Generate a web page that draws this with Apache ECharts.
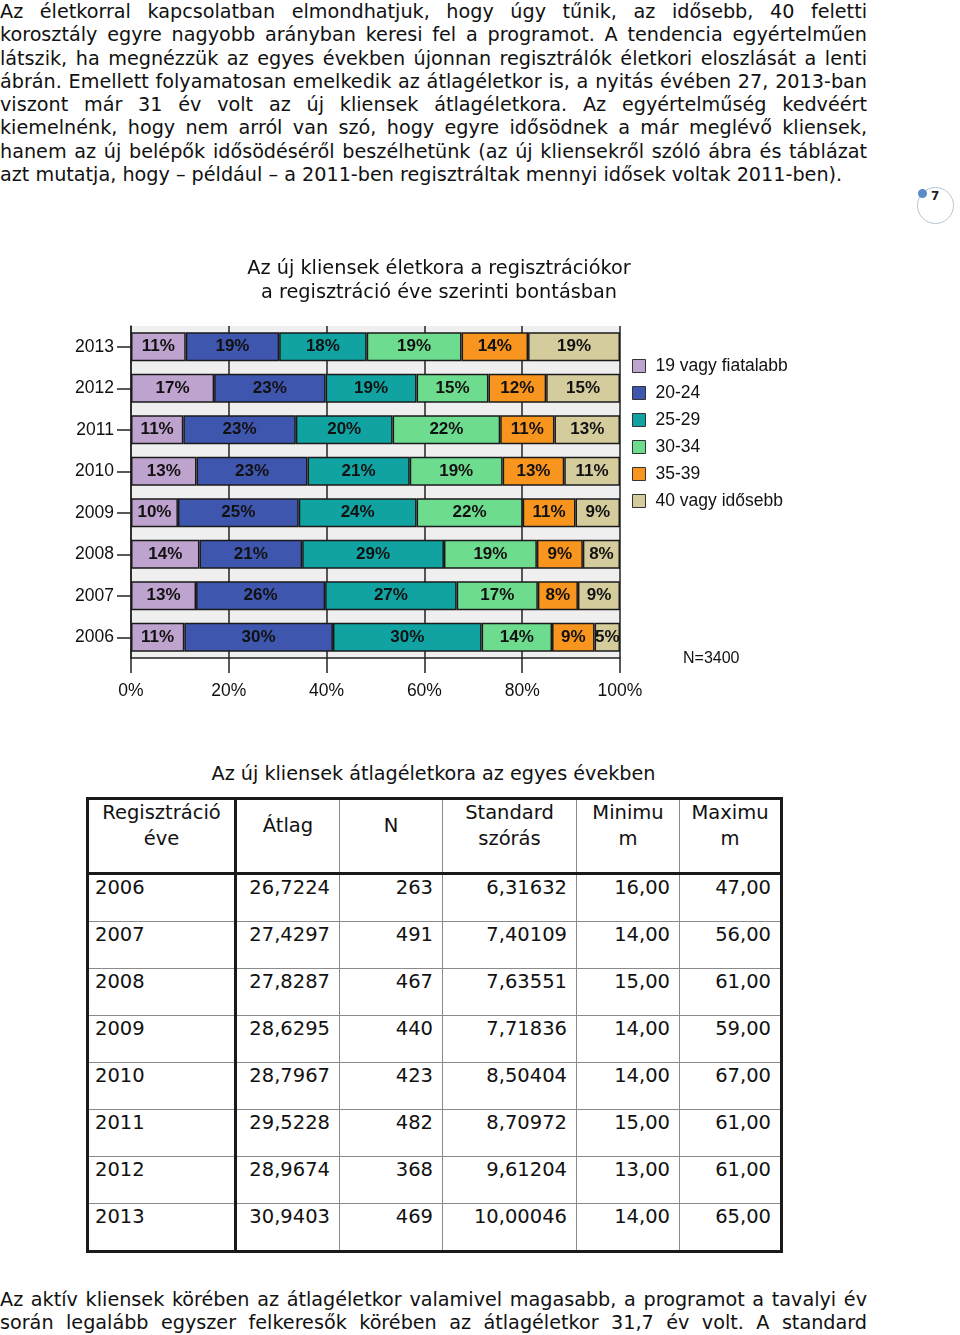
<!DOCTYPE html>
<html>
<head>
<meta charset="utf-8">
<script src="https://cdn.jsdelivr.net/npm/echarts@6/dist/echarts.min.js"></script>
<style>
  html, body { margin:0; padding:0; background:#fff; }
  body { width:960px; height:1335px; position:relative; overflow:hidden; font-family:"DejaVu Sans", Verdana, sans-serif; color:#111; }
  .para { position:absolute; left:0; width:867px; font-size:19.2px; line-height:23.3px; }
  .para .ln { display:block; white-space:nowrap; text-align:justify; text-align-last:justify; }
  .para .ln.last { text-align-last:left; }
  #chart { position:absolute; left:0; top:240px; width:960px; height:480px; }
  #ttitle { position:absolute; left:0; width:867px; top:762px; text-align:center; font-size:19.2px; line-height:24px; }
  table { position:absolute; left:86px; top:797px; border-collapse:collapse; table-layout:fixed; font-size:19.5px; border:3px solid #1a1a1a; }
  td, th { border:1px solid #8a8a8a; padding:0 9px; vertical-align:top; line-height:26px; font-weight:normal; }
  th { text-align:center; height:72px; padding-top:0; }
  th.one { padding-top:13px; height:59px; }
  thead tr { border-bottom:3px solid #1a1a1a; }
  td { text-align:right; height:46px; padding-top:0; }
  td.y, th.y { border-right:3px solid #1a1a1a; }
  td.y { text-align:left; padding-left:6px; }
  #pg { position:absolute; left:917px; top:187px; width:35px; height:35px; border:1.5px solid #b7c6d6; border-radius:50%; }
  #pgdot { position:absolute; left:918px; top:189px; width:9px; height:9px; background:#5b8cc9; border-radius:50%; }
  #pgn { position:absolute; left:931px; top:189px; font-size:12px; font-weight:bold; color:#222; }
</style>
</head>
<body>
<div class="para" style="top:0px">
  <span class="ln">Az életkorral kapcsolatban elmondhatjuk, hogy úgy tűnik, az idősebb, 40 feletti</span>
  <span class="ln">korosztály egyre nagyobb arányban keresi fel a programot. A tendencia egyértelműen</span>
  <span class="ln">látszik, ha megnézzük az egyes években újonnan regisztrálók életkori eloszlását a lenti</span>
  <span class="ln">ábrán. Emellett folyamatosan emelkedik az átlagéletkor is, a nyitás évében 27, 2013-ban</span>
  <span class="ln">viszont már 31 év volt az új kliensek átlagéletkora. Az egyértelműség kedvéért</span>
  <span class="ln">kiemelnénk, hogy nem arról van szó, hogy egyre idősödnek a már meglévő kliensek,</span>
  <span class="ln">hanem az új belépők idősödéséről beszélhetünk (az új kliensekről szóló ábra és táblázat</span>
  <span class="ln last">azt mutatja, hogy – például – a 2011-ben regisztráltak mennyi idősek voltak 2011-ben).</span>
</div>
<div id="pg"></div><div id="pgdot"></div><div id="pgn">7</div>

<div id="chart"></div>

<div id="ttitle">Az új kliensek átlagéletkora az egyes években</div>
<table id="tbl">
  <colgroup>
    <col style="width:148px"><col style="width:104px"><col style="width:103px"><col style="width:134px"><col style="width:103px"><col style="width:102px">
  </colgroup>
  <thead>
    <tr>
      <th class="y">Regisztráció<br>éve</th>
      <th class="one">Átlag</th>
      <th class="one">N</th>
      <th>Standard<br>szórás</th>
      <th>Minimu<br>m</th>
      <th>Maximu<br>m</th>
    </tr>
  </thead>
  <tbody id="tb"></tbody>
</table>

<div class="para" style="top:1287.5px">
  <span class="ln">Az aktív kliensek körében az átlagéletkor valamivel magasabb, a programot a tavalyi év</span>
  <span class="ln">során legalább egyszer felkeresők körében az átlagéletkor 31,7 év volt. A standard</span>
</div>

<script>
// ---- chart data (percent shares) ----
const years = ['2006', '2007', '2008', '2009', '2010', '2011', '2012', '2013'];
const ageGroups = ['19 vagy fiatalabb', '20-24', '25-29', '30-34', '35-39', '40 vagy idősebb'];
const share19 = [10.9, 13.3, 14.0, 9.6, 13.4, 10.7, 17.0, 11.2];
const share2024 = [30.4, 26.4, 21.0, 24.7, 22.7, 23.0, 22.8, 19.1];
const share2529 = [30.4, 26.9, 29.0, 24.1, 20.9, 19.8, 18.6, 17.9];
const share3034 = [14.4, 16.6, 19.0, 21.7, 19.0, 22.0, 14.7, 19.4];
const share3539 = [8.7, 8.2, 9.4, 10.8, 12.6, 11.1, 11.8, 13.6];
const share40 = [5.2, 8.6, 7.6, 9.1, 11.4, 13.4, 15.1, 18.8];
const xTicks = [0, 20, 40, 60, 80, 100];
const sampleNote = 'N=3400';

// ---- table data ----
const tYears = [2006, 2007, 2008, 2009, 2010, 2011, 2012, 2013];
const tMean = [26.7224, 27.4297, 27.8287, 28.6295, 28.7967, 29.5228, 28.9674, 30.9403];
const tN = [263, 491, 467, 440, 423, 482, 368, 469];
const tSD = [6.31632, 7.40109, 7.63551, 7.71836, 8.50404, 8.70972, 9.61204, 10.00046];
const tMin = [16, 14, 15, 14, 14, 15, 13, 14];
const tMax = [47, 56, 61, 59, 67, 61, 61, 65];

const colors = ['#bea3cf', '#3f56ae', '#11a2a2', '#6edc8e', '#f7951f', '#d5cc9d'];
const seriesData = [share19, share2024, share2529, share3034, share3539, share40];

const fmt = (v, d) => v.toFixed(d).replace('.', ',');
const tb = document.getElementById('tb');
tYears.forEach((y, i) => {
  const tr = document.createElement('tr');
  tr.innerHTML = '<td class="y">' + y + '</td><td>' + fmt(tMean[i], 4) + '</td><td>' + tN[i] +
    '</td><td>' + fmt(tSD[i], 5) + '</td><td>' + fmt(tMin[i], 2) + '</td><td>' + fmt(tMax[i], 2) + '</td>';
  tb.appendChild(tr);
});

const chart = echarts.init(document.getElementById('chart'), null, { renderer: 'canvas' });
const axisFont = { fontFamily: '"Liberation Sans", Arial, sans-serif', fontSize: 17.5, color: '#111' };
chart.setOption({
  animation: false,
  title: {
    text: 'Az új kliensek életkora a regisztrációkor\na regisztráció éve szerinti bontásban',
    left: 434, top: 12, textAlign: 'center',
    textStyle: { fontFamily: '"DejaVu Sans", Verdana, sans-serif', fontSize: 19.3, fontWeight: 'normal', color: '#111', lineHeight: 24 }
  },
  legend: {
    orient: 'vertical', left: 627, top: 112,
    itemWidth: 13, itemHeight: 13, itemGap: 9, icon: 'rect',
    textStyle: Object.assign({}, axisFont, { padding: [0, 0, 0, 5] }),
    itemStyle: { borderColor: '#333', borderWidth: 1 },
    data: ageGroups
  },
  grid: {
    left: 131, top: 86, width: 489, height: 332,
    show: true, backgroundColor: '#efefef', borderWidth: 0
  },
  xAxis: {
    type: 'value', min: 0, max: 100, interval: 20,
    axisLine: { show: true, lineStyle: { color: '#222', width: 1.5 } },
    axisTick: { show: true, length: 15, lineStyle: { color: '#222', width: 1.5 } },
    splitLine: { show: true, lineStyle: { color: '#222', width: 1.5 } },
    axisLabel: Object.assign({}, axisFont, { margin: 24, formatter: v => xTicks.includes(v) ? v + '%' : '' })
  },
  yAxis: {
    type: 'category', data: years,
    axisLine: { show: true, lineStyle: { color: '#222', width: 1.5 } },
    axisTick: { show: true, alignWithLabel: true, length: 14, lineStyle: { color: '#222', width: 1.5 } },
    axisLabel: Object.assign({}, axisFont, { margin: 17 })
  },
  graphic: [{
    type: 'text', left: 683, top: 411,
    style: { text: sampleNote, fill: '#111', font: '16px "Liberation Sans", Arial, sans-serif' }
  }],
  series: seriesData.map((d, i) => ({
    name: ageGroups[i], type: 'bar', stack: 'total', data: d,
    barWidth: 29,
    itemStyle: { color: colors[i], borderColor: '#1a1a1a', borderWidth: 1.5 },
    label: {
      show: true, position: 'inside',
      fontFamily: '"Liberation Sans", Arial, sans-serif', fontSize: 17, fontWeight: 'bold', color: '#111',
      formatter: p => Math.round(p.value) + '%'
    }
  }))
});
</script>
</body>
</html>
